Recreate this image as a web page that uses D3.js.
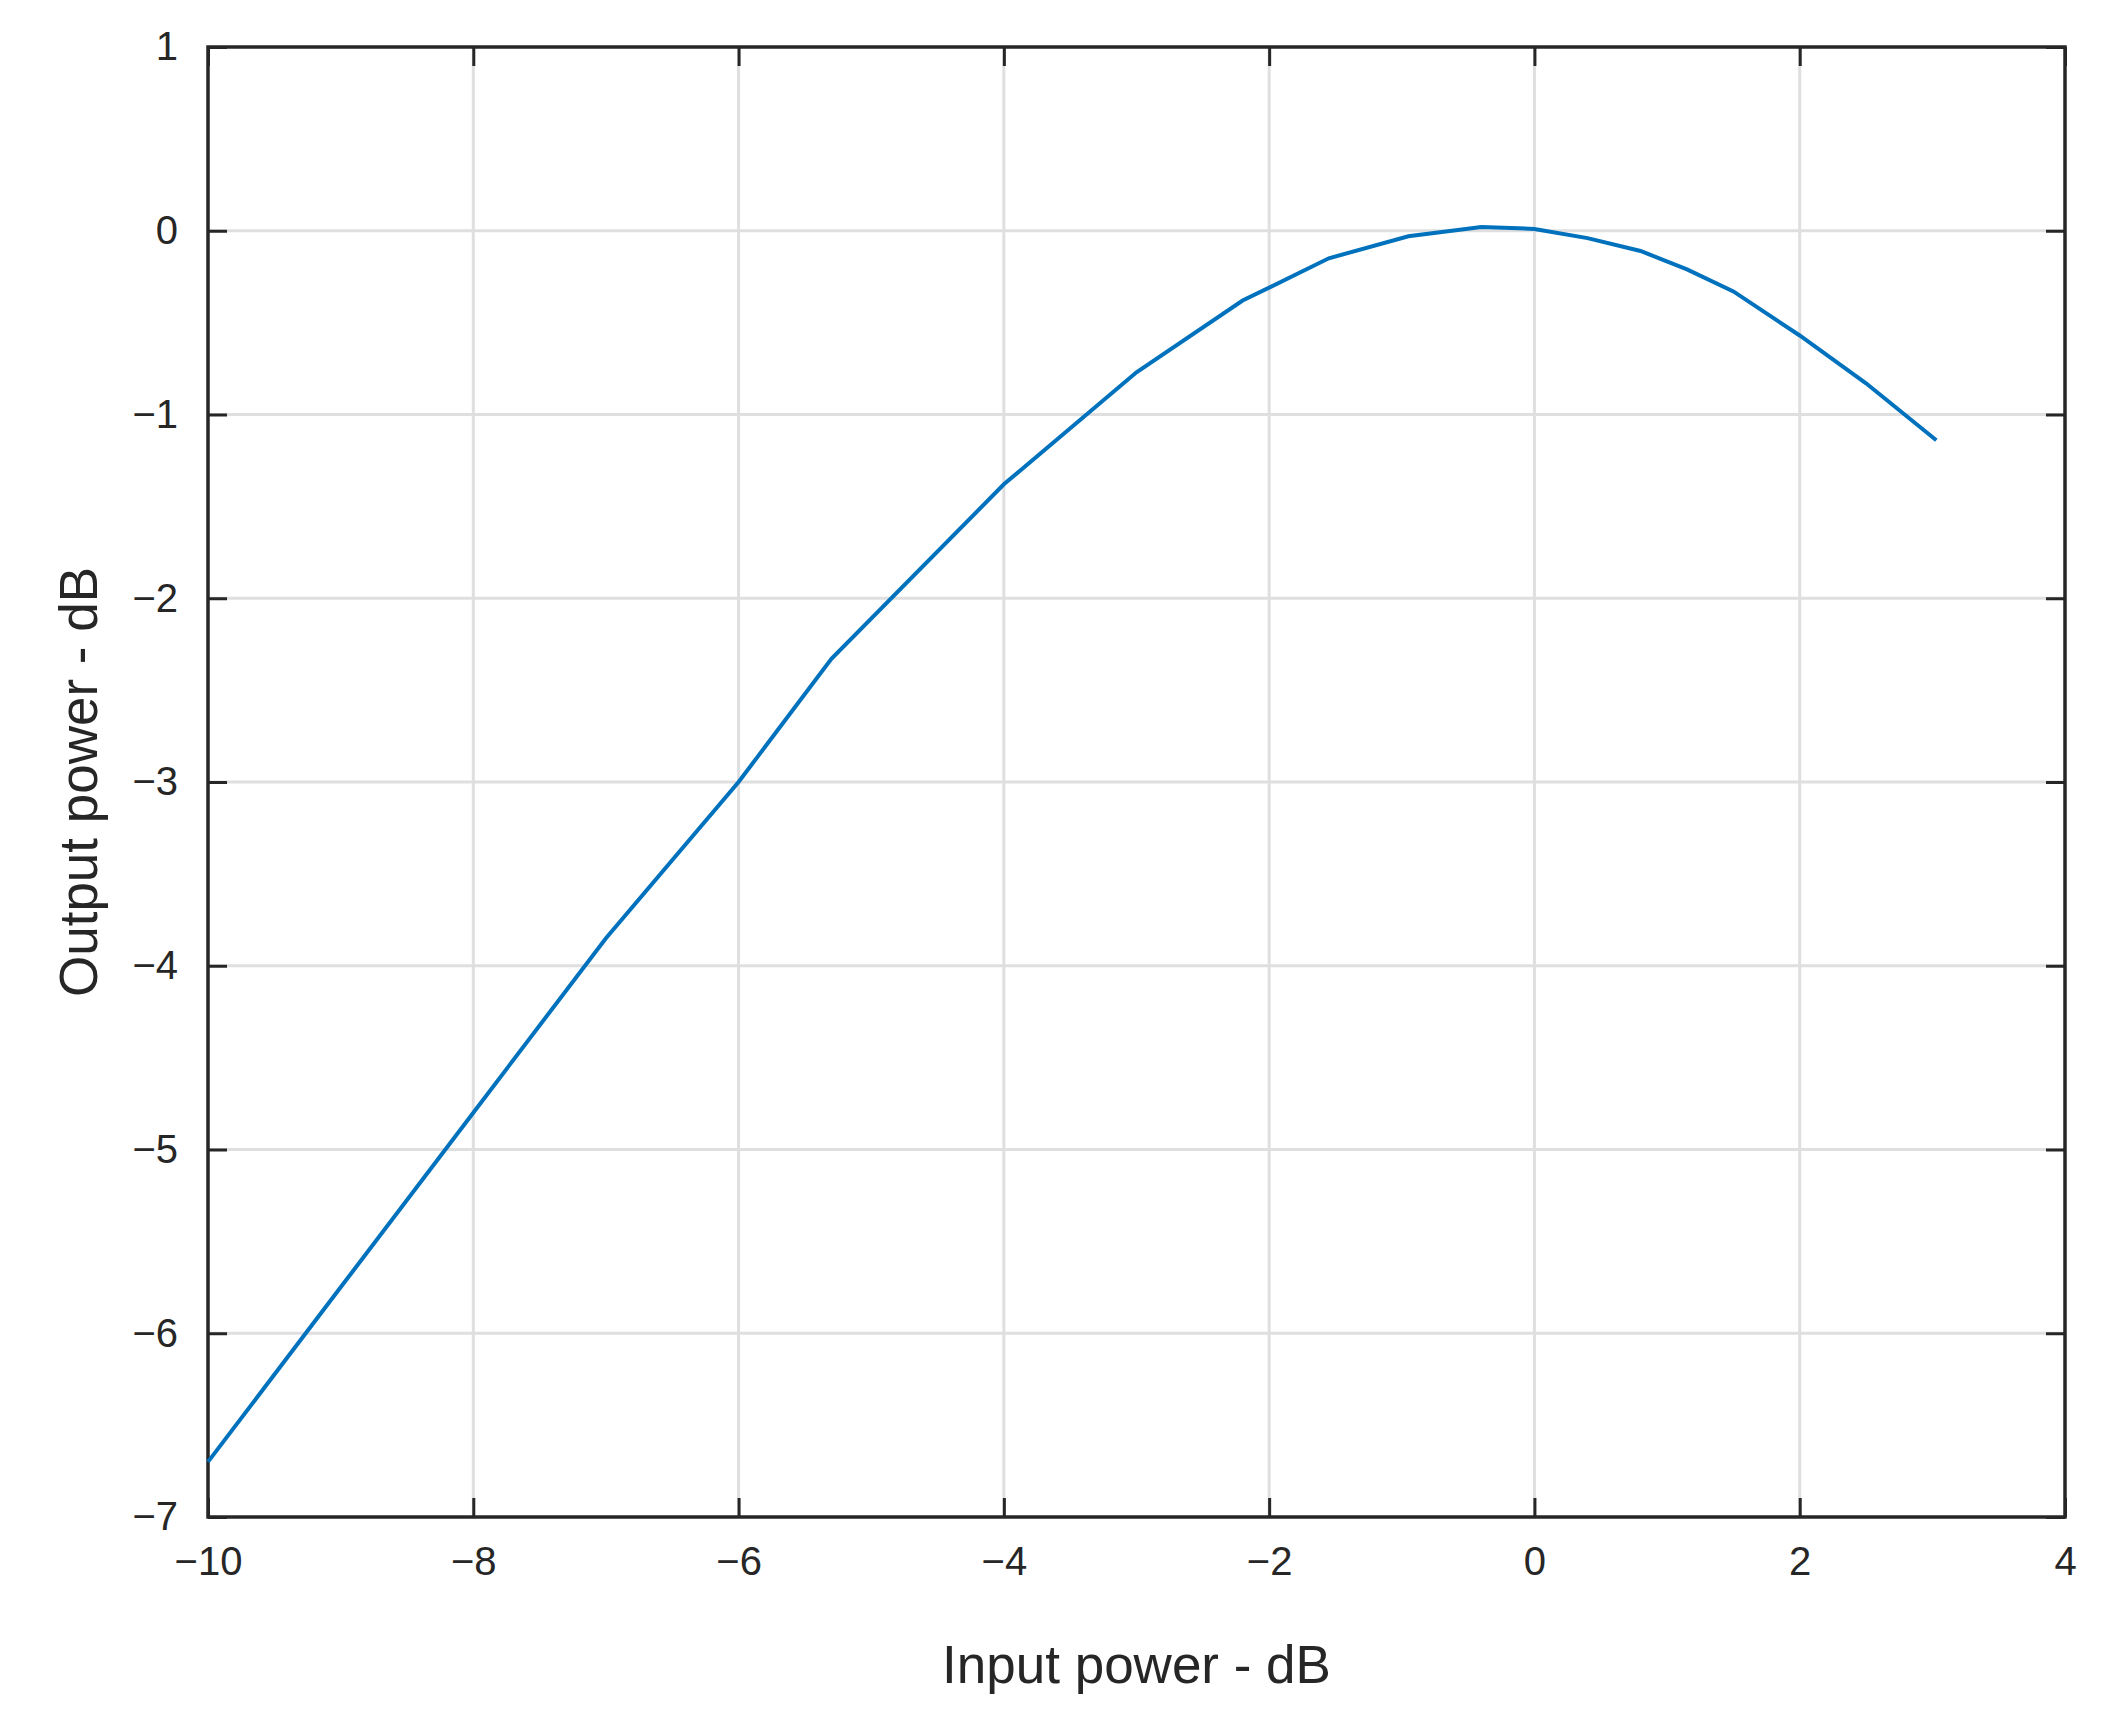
<!DOCTYPE html>
<html><head><meta charset="utf-8">
<script src="https://cdn.jsdelivr.net/npm/d3@7"></script>
<style>body{margin:0;background:#fff}</style></head>
<body><script>
const inputPower = [-10, -9, -8, -7, -6, -5.3, -4, -3, -2.2, -1.55, -0.95, -0.4, 0, 0.4, 0.8, 1.15, 1.5, 2.0, 2.5, 3.03];
const outputPower = [-6.7, -5.75, -4.8, -3.85, -3.0, -2.33, -1.38, -0.77, -0.38, -0.15, -0.03, 0.02, 0.01, -0.04, -0.11, -0.21, -0.33, -0.57, -0.83, -1.14];
const xTicks = [-10, -8, -6, -4, -2, 0, 2, 4];
const yTicks = [-7, -6, -5, -4, -3, -2, -1, 0, 1];

const W = 2102, H = 1719;
const m = {left: 208, right: W - 2065, top: 47, bottom: H - 1517};
const svg = d3.select("body").append("svg").attr("width", W).attr("height", H)
  .style("font-family", "Arial, 'Liberation Sans', sans-serif");

const x = d3.scaleLinear().domain([-10, 4]).range([m.left, W - m.right]);
const y = d3.scaleLinear().domain([-7, 1]).range([H - m.bottom, m.top]);
const ink = "#262626";

// grid
svg.append("g").selectAll("line").data(xTicks.slice(1, -1)).enter().append("line")
  .attr("x1", d => x(d)).attr("x2", d => x(d)).attr("y1", y(1)).attr("y2", y(-7))
  .attr("stroke", "#dfdfdf").attr("stroke-width", 3);
svg.append("g").selectAll("line").data(yTicks.slice(1, -1)).enter().append("line")
  .attr("y1", d => y(d)).attr("y2", d => y(d)).attr("x1", x(-10)).attr("x2", x(4))
  .attr("stroke", "#dfdfdf").attr("stroke-width", 3);

// axes (ticks inward, mirrored)
function styleAxis(g) {
  g.select(".domain").remove();
  g.selectAll("line").attr("stroke", ink).attr("stroke-width", 3);
  g.selectAll("text").attr("fill", ink).style("font-size", "40px");
}
svg.append("g").attr("transform", `translate(0,${y(-7)})`)
  .call(d3.axisBottom(x).tickValues(xTicks).tickSize(-19).tickPadding(30).tickFormat(d3.format("d")))
  .call(styleAxis);
svg.append("g").attr("transform", `translate(0,${y(1)})`)
  .call(d3.axisTop(x).tickValues(xTicks).tickSize(-19).tickFormat(""))
  .call(styleAxis);
svg.append("g").attr("transform", `translate(${x(-10)},0)`)
  .call(d3.axisLeft(y).tickValues(yTicks).tickSize(-19).tickPadding(30).tickFormat(d3.format("d")))
  .call(styleAxis);
svg.append("g").attr("transform", `translate(${x(4)},0)`)
  .call(d3.axisRight(y).tickValues(yTicks).tickSize(-19).tickFormat(""))
  .call(styleAxis);

svg.append("rect").attr("x", x(-10)).attr("y", y(1))
  .attr("width", x(4) - x(-10)).attr("height", y(-7) - y(1))
  .attr("fill", "none").attr("stroke", ink).attr("stroke-width", 3.5);

// curve
const line = d3.line().x((d, i) => x(inputPower[i])).y(d => y(d));
svg.append("path").datum(outputPower).attr("d", line)
  .attr("fill", "none").attr("stroke", "#0072bd").attr("stroke-width", 4);

// labels
svg.append("text").attr("x", (x(-10) + x(4)) / 2).attr("y", 1683)
  .attr("text-anchor", "middle").attr("fill", ink).style("font-size", "53px")
  .text("Input power - dB");
svg.append("text").attr("transform", `translate(97,${(y(1) + y(-7)) / 2}) rotate(-90)`)
  .attr("text-anchor", "middle").attr("fill", ink).style("font-size", "53px")
  .text("Output power - dB");
</script></body></html>
